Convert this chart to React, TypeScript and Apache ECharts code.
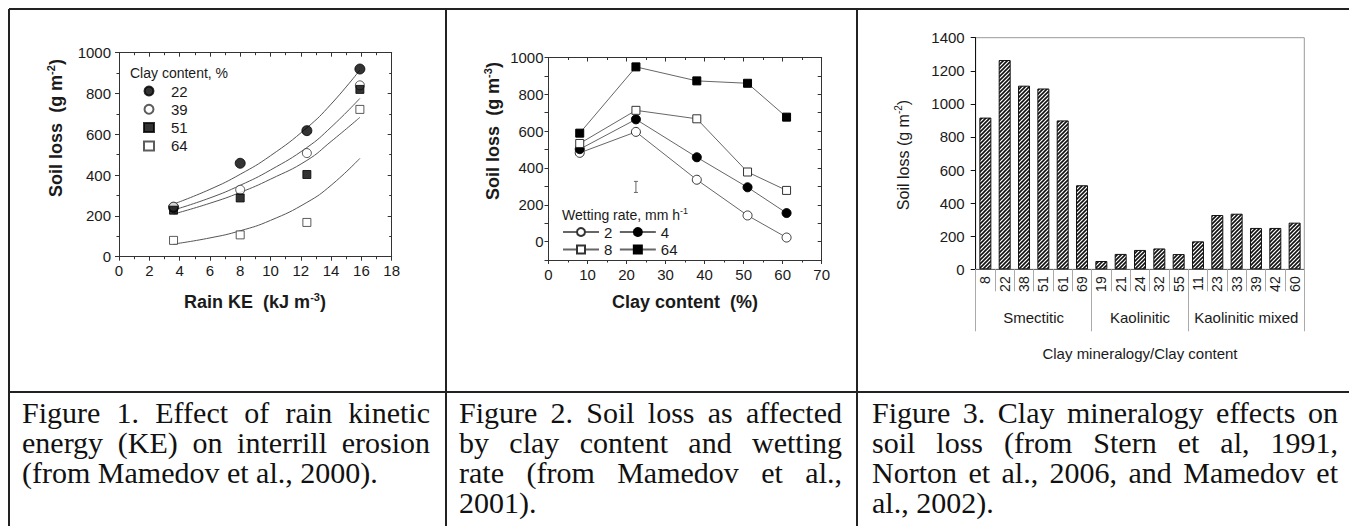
import React, { useEffect, useRef } from 'react';
import * as echarts from 'echarts';

const SANS = '"Liberation Sans", Arial, Helvetica, sans-serif';
const SERIF = '"Liberation Serif", "Times New Roman", serif';
const INK = '#1a1a1a';
const FRAME = '#333';

// ---------- Figure 1: rain kinetic energy ----------
const keX = [3.6, 8, 12.4, 15.9];
const clay22 = [242, 458, 618, 920];
const clay39 = [245, 328, 508, 840];
const clay51 = [228, 288, 403, 820];
const clay64 = [80, 107, 168, 722];
const fitKeX = [3.6, 6, 8, 10, 12.4, 14, 15.9];
const fit22 = [258, 330, 404, 495, 632, 748, 915];
const fit39 = [229, 288, 350, 425, 535, 635, 776];
const fit51 = [209, 262, 315, 380, 472, 565, 683];
const fit64 = [62, 92, 127, 178, 266, 350, 482];

// ---------- Figure 2: clay content / wetting rate ----------
const clayPct = [8, 22.4, 38, 51, 61];
const wet2 = [482, 596, 336, 142, 22];
const wet4 = [502, 664, 458, 295, 155];
const wet8 = [533, 713, 667, 378, 278];
const wet64 = [589, 949, 873, 860, 676];
const lsdBar = [22.4, 267, 327];

// ---------- Figure 3: clay mineralogy ----------
const clayCats = ['8', '22', '38', '51', '61', '69', '19', '21', '24', '32', '55', '11', '23', '33', '39', '42', '60'];
const soilLoss = [917, 1265, 1110, 1093, 900, 508, 50, 93, 117, 126, 92, 169, 328, 336, 250, 250, 282];
const mineralGroups = ['Smectitic', 'Kaolinitic', 'Kaolinitic mixed'];
const groupSizes = [6, 5, 6];

// ---------- Captions ----------
const caption1 = ['Figure 1. Effect of rain kinetic', 'energy (KE) on interrill erosion', '(from Mamedov et al., 2000).'];
const caption2 = ['Figure 2. Soil loss as affected', 'by clay content and wetting', 'rate (from Mamedov et al.,', '2001).'];
const caption3 = ['Figure 3. Clay mineralogy effects on', 'soil loss (from Stern et al, 1991,', 'Norton et al., 2006, and Mamedov et', 'al., 2002).'];

const pairs = (xs: number[], ys: number[]) => xs.map((x, i) => [x, ys[i]]);

const CAP_FONT = 30;

function captionWords(lines: string[], x0: number, x1: number, y0: number, lh: number) {
  const ctx = document.createElement('canvas').getContext('2d') as CanvasRenderingContext2D;
  ctx.font = `${CAP_FONT}px ${SERIF}`;
  const out: any[] = [];
  lines.forEach((line, li) => {
    const words = line.split(' ');
    const widths = words.map((w) => ctx.measureText(w).width);
    const total = widths.reduce((a, b) => a + b, 0);
    const last = li === lines.length - 1;
    const gap = !last && words.length > 1 ? (x1 - x0 - total) / (words.length - 1) : ctx.measureText(' ').width;
    let x = x0;
    words.forEach((w, i) => {
      out.push({
        type: 'text',
        x,
        y: y0 + li * lh,
        silent: true,
        style: { text: w, x: 0, y: 0, fill: '#111', fontFamily: SERIF, fontSize: CAP_FONT, align: 'left', verticalAlign: 'middle' },
      });
      x += widths[i] + gap;
    });
  });
  return out;
}

function hatchPattern() {
  const s = 4;
  const c = document.createElement('canvas');
  c.width = s;
  c.height = s;
  const g = c.getContext('2d') as CanvasRenderingContext2D;
  g.fillStyle = '#fff';
  g.fillRect(0, 0, s, s);
  g.strokeStyle = '#111';
  g.lineWidth = 1.6;
  g.beginPath();
  g.moveTo(0, s);
  g.lineTo(s, 0);
  g.moveTo(-1, 1);
  g.lineTo(1, -1);
  g.moveTo(s - 1, s + 1);
  g.lineTo(s + 1, s - 1);
  g.stroke();
  return { image: c, repeat: 'repeat' };
}

const boldRich = {
  b: { fontFamily: SANS, fontSize: 18, fontWeight: 'bold', fill: INK, lineHeight: 22 },
  s: { fontFamily: SANS, fontSize: 11, fontWeight: 'bold', fill: INK, verticalAlign: 'top', lineHeight: 11 },
};
const regRich = {
  r: { fontFamily: SANS, fontSize: 16, fill: INK, lineHeight: 20 },
  s: { fontFamily: SANS, fontSize: 10, fill: INK, verticalAlign: 'top', lineHeight: 10 },
};
const legRich = {
  r: { fontFamily: SANS, fontSize: 14, fill: INK, lineHeight: 18 },
  s: { fontFamily: SANS, fontSize: 9, fill: INK, verticalAlign: 'top', lineHeight: 9 },
};

const plain = (v: number) => String(v);

function valAxis(o: any) {
  return {
    type: 'value',
    gridIndex: o.grid,
    min: o.min,
    max: o.max,
    interval: o.interval,
    position: o.pos,
    axisLine: { show: true, onZero: false, lineStyle: { color: FRAME, width: 1 } },
    axisTick: { show: true, inside: !!o.inside, length: 4, lineStyle: { color: FRAME } },
    minorTick: { show: !!o.minor, splitNumber: 2, length: 2.5, lineStyle: { color: FRAME } },
    axisLabel: {
      show: !!o.labels,
      fontSize: 15,
      fontFamily: SANS,
      color: INK,
      margin: o.margin ?? 6,
      formatter: o.formatter || plain,
    },
    splitLine: { show: false },
    minorSplitLine: { show: false },
  };
}

export default function App() {
  const ref = useRef<HTMLDivElement>(null);
  useEffect(() => {
    if (!ref.current) return;
    const chart = echarts.init(ref.current, undefined, { renderer: 'svg' });

    const groupEdges: number[] = [0];
    groupSizes.forEach((s) => groupEdges.push(groupEdges[groupEdges.length - 1] + s));
    const groupCenters = groupSizes.map((s, i) => groupEdges[i] + s / 2);
    const nCats = clayCats.length;

    const tableLines = [
      [9, 9, 1349, 9],
      [9, 392, 1349, 392],
      [9, 9, 9, 526],
      [446, 9, 446, 526],
      [857, 9, 857, 526],
    ].map(([x1, y1, x2, y2]) => ({
      type: 'line',
      silent: true,
      shape: { x1, y1, x2, y2 },
      style: { stroke: '#222', lineWidth: 2 },
    }));

    const titleText = (x: number, y: number, text: string, rich: any, rot = 0, align = 'center') => ({
      type: 'text',
      x,
      y,
      rotation: rot,
      silent: true,
      style: { text, x: 0, y: 0, align, verticalAlign: 'middle', rich },
    });

    const graphic = [
      ...tableLines,
      titleText(56, 128, '{b|Soil loss  (g m}{s|-2}{b|)}', boldRich, Math.PI / 2),
      titleText(255, 302, '{b|Rain KE  (kJ m}{s|-3}{b|)}', boldRich),
      titleText(493, 131, '{b|Soil loss  (g m}{s|-3}{b|)}', boldRich, Math.PI / 2),
      titleText(685, 302, '{b|Clay content  (%)}', boldRich),
      titleText(903, 155, '{r|Soil loss (g m}{s|-2}{r|)}', regRich, Math.PI / 2),
      titleText(1140, 353, '{r|Clay mineralogy/Clay content}', { r: { ...regRich.r, fontSize: 15 } }),
      titleText(130, 73, '{r|Clay content, %}', legRich, 0, 'left'),
      titleText(562, 215, '{r|Wetting rate, mm h}{s|-1}', legRich, 0, 'left'),
      ...captionWords(caption1, 22, 430, 412, 30),
      ...captionWords(caption2, 459, 842, 412, 30),
      ...captionWords(caption3, 872, 1338, 412, 30),
    ];

    const openStyle = { color: '#fff', borderColor: '#333', borderWidth: 1 };
    const fillStyle = { color: '#000', borderColor: '#000', borderWidth: 1 };
    const fitLine = (name: string, ys: number[]) => ({
      name,
      type: 'line',
      xAxisIndex: 0,
      yAxisIndex: 0,
      data: pairs(fitKeX, ys),
      smooth: true,
      showSymbol: false,
      symbol: 'none',
      lineStyle: { color: '#555', width: 1 },
      z: 1,
    });
    const scat = (name: string, ys: number[], symbol: string, size: number, style: any) => ({
      name,
      type: 'scatter',
      xAxisIndex: 0,
      yAxisIndex: 0,
      data: pairs(keX, ys),
      symbol,
      symbolSize: size,
      itemStyle: style,
      z: 3,
    });
    const wetLine = (name: string, ys: number[], symbol: string, style: any) => ({
      name,
      type: 'line',
      xAxisIndex: 2,
      yAxisIndex: 2,
      data: pairs(clayPct, ys),
      symbol,
      symbolSize: symbol === 'circle' ? 9 : 8,
      showSymbol: true,
      lineStyle: { color: '#666', width: 1 },
      itemStyle: style,
      z: 3,
    });
    const legendText = { fontSize: 15, fontFamily: SANS, color: INK, lineHeight: 15 };

    const option: any = {
      animation: false,
      backgroundColor: '#fff',
      textStyle: { fontFamily: SANS },
      grid: [
        { left: 119, top: 52.7, width: 272.7, height: 204 },
        { left: 548.5, top: 57.5, width: 273.2, height: 202.5 },
        { left: 975.7, top: 37.7, width: 328.6, height: 231.6, show: true, borderColor: '#999', borderWidth: 1 },
        { left: 975.7, top: 37.7, width: 328.6, height: 231.6 },
      ],
      xAxis: [
        valAxis({ grid: 0, min: 0, max: 18, interval: 2, pos: 'bottom', labels: true, minor: true, margin: 6 }),
        valAxis({ grid: 0, min: 0, max: 18, interval: 2, pos: 'top', inside: true, minor: true }),
        valAxis({ grid: 1, min: 0, max: 70, interval: 10, pos: 'bottom', labels: true, minor: true, margin: 7 }),
        valAxis({ grid: 1, min: 0, max: 70, interval: 10, pos: 'top', inside: true, minor: true }),
        {
          type: 'category',
          gridIndex: 2,
          data: clayCats,
          position: 'bottom',
          axisLine: { show: true, onZero: false, lineStyle: { color: '#666' } },
          axisTick: { show: true, alignWithLabel: false, length: 22, lineStyle: { color: '#aaa' } },
          axisLabel: { rotate: 90, fontSize: 14, fontFamily: SANS, color: INK, margin: 7, interval: 0 },
        },
        {
          type: 'value',
          gridIndex: 3,
          min: 0,
          max: nCats,
          position: 'bottom',
          axisLine: { show: false, onZero: false },
          axisTick: { show: true, length: 62, customValues: groupEdges, lineStyle: { color: '#aaa' } },
          axisLabel: {
            show: true,
            customValues: groupCenters,
            margin: 41,
            fontSize: 15,
            fontFamily: SANS,
            color: INK,
            formatter: (v: number) => {
              const i = groupCenters.findIndex((c) => Math.abs(c - v) < 1e-6);
              return i >= 0 ? mineralGroups[i] : '';
            },
          },
          splitLine: { show: false },
        },
      ],
      yAxis: [
        valAxis({ grid: 0, min: 0, max: 1000, interval: 200, pos: 'left', labels: true, minor: true, margin: 8 }),
        valAxis({ grid: 0, min: 0, max: 1000, interval: 200, pos: 'right', inside: true, minor: true }),
        valAxis({
          grid: 1,
          min: -100,
          max: 1000,
          interval: 100,
          pos: 'left',
          labels: true,
          margin: 5,
          formatter: (v: number) => (v >= 0 && v % 200 === 0 ? String(v) : ''),
        }),
        valAxis({ grid: 1, min: -100, max: 1000, interval: 100, pos: 'right', inside: true }),
        {
          type: 'value',
          gridIndex: 2,
          min: 0,
          max: 1400,
          interval: 200,
          position: 'left',
          axisLine: { show: true, onZero: false, lineStyle: { color: '#111' } },
          axisTick: { show: true, length: 5, lineStyle: { color: '#111' } },
          axisLabel: { fontSize: 15, fontFamily: SANS, color: INK, margin: 11, formatter: plain },
          splitLine: { show: false },
        },
        { type: 'value', gridIndex: 3, min: 0, max: 1, show: false },
      ],
      legend: [
        {
          data: ['Clay 22', 'Clay 39', 'Clay 51', 'Clay 64'],
          orient: 'vertical',
          left: 143,
          top: 83.5,
          padding: 0,
          itemWidth: 10,
          itemHeight: 9,
          itemGap: 3.3,
          selectedMode: false,
          formatter: (n: string) => n.split(' ')[1],
          textStyle: { ...legendText, padding: [0, 0, 0, 12] },
        },
        {
          data: ['Wet 2', 'Wet 4'],
          orient: 'horizontal',
          left: 562,
          top: 224.5,
          padding: 0,
          itemWidth: 36,
          itemHeight: 10,
          itemGap: 6.5,
          selectedMode: false,
          formatter: (n: string) => n.split(' ')[1],
          textStyle: legendText,
        },
        {
          data: ['Wet 8', 'Wet 64'],
          orient: 'horizontal',
          left: 562,
          top: 242,
          padding: 0,
          itemWidth: 36,
          itemHeight: 10,
          itemGap: 6.5,
          selectedMode: false,
          formatter: (n: string) => n.split(' ')[1],
          textStyle: legendText,
        },
      ],
      series: [
        fitLine('fit 22', fit22),
        fitLine('fit 39', fit39),
        fitLine('fit 51', fit51),
        fitLine('fit 64', fit64),
        scat('Clay 22', clay22, 'circle', 10, fillStyle),
        scat('Clay 39', clay39, 'circle', 9, openStyle),
        scat('Clay 51', clay51, 'rect', 8, fillStyle),
        scat('Clay 64', clay64, 'rect', 8, openStyle),
        wetLine('Wet 2', wet2, 'circle', openStyle),
        wetLine('Wet 4', wet4, 'circle', fillStyle),
        wetLine('Wet 8', wet8, 'rect', openStyle),
        wetLine('Wet 64', wet64, 'rect', fillStyle),
        {
          name: 'LSD',
          type: 'custom',
          xAxisIndex: 2,
          yAxisIndex: 2,
          data: [lsdBar],
          renderItem: (_p: any, api: any) => {
            const x = api.value(0);
            const lo = api.coord([x, api.value(1)]);
            const hi = api.coord([x, api.value(2)]);
            const w = 2;
            const st = { stroke: '#666', lineWidth: 1 };
            return {
              type: 'group',
              children: [
                { type: 'line', shape: { x1: lo[0], y1: lo[1], x2: hi[0], y2: hi[1] }, style: st },
                { type: 'line', shape: { x1: lo[0] - w, y1: lo[1], x2: lo[0] + w, y2: lo[1] }, style: st },
                { type: 'line', shape: { x1: hi[0] - w, y1: hi[1], x2: hi[0] + w, y2: hi[1] }, style: st },
              ],
            };
          },
        },
        {
          name: 'Soil loss',
          type: 'bar',
          xAxisIndex: 4,
          yAxisIndex: 4,
          data: soilLoss,
          barWidth: '62%',
          itemStyle: {
            color: hatchPattern(),
            borderColor: '#111',
            borderWidth: 1,
          },
        },
      ],
      graphic,
    };
    chart.setOption(option);
    return () => chart.dispose();
  }, []);
  return (
    <div
      ref={ref}
      style={{ position: 'absolute', left: 0, top: 0, width: 1349, height: 526, background: '#fff' }}
    />
  );
}
